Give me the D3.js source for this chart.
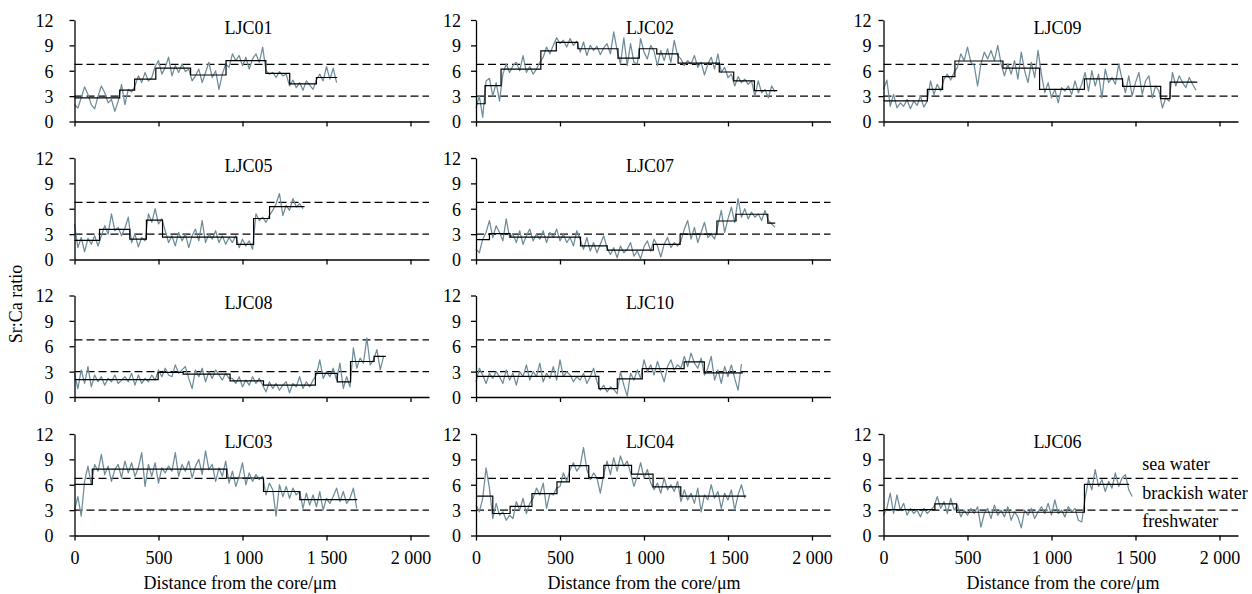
<!DOCTYPE html>
<html><head><meta charset="utf-8">
<script src="https://cdn.jsdelivr.net/npm/d3@7"></script>
<style>
body{margin:0;background:#fff}
svg text{font-family:"Liberation Serif","Times New Roman",serif;fill:#000}
</style>
</head><body>
<svg id="c" width="1252" height="594"></svg>
<script>
// ---------------- DATA ----------------
const panelNames = ["LJC01","LJC02","LJC09","LJC05","LJC07","LJC08","LJC10","LJC03","LJC04","LJC06"];
const sampleStep = 20; // μm between successive Sr:Ca readings

// Sr:Ca profiles (grey lines), one value every sampleStep μm from the core
const ljc01 = [2.0,1.6,2.8,4.1,3.2,2.0,1.5,3.0,4.2,3.4,2.2,2.6,1.2,2.4,4.4,2.0,3.8,3.5,4.2,5.4,4.6,5.8,4.8,5.2,6.5,7.2,5.6,6.4,7.6,5.4,6.6,5.8,6.8,5.9,6.2,4.8,5.4,6.2,4.6,5.8,7.0,5.2,6.0,3.8,5.6,6.8,6.4,8.0,7.2,7.8,6.6,7.6,6.2,7.4,8.0,7.0,8.8,6.0,5.6,5.8,5.2,5.9,5.4,5.6,4.2,4.9,4.0,4.6,3.7,4.8,4.3,3.8,4.9,5.6,4.8,6.5,5.0,6.3,4.6];
const ljc02 = [1.6,3.0,0.5,4.8,5.1,3.0,4.6,2.4,5.6,6.8,5.8,6.6,7.0,6.0,7.8,5.8,6.5,5.6,6.2,7.0,7.6,8.8,8.0,9.0,9.9,9.2,9.6,8.8,9.8,9.0,9.5,8.2,9.4,7.8,9.0,8.4,8.9,7.9,8.7,9.2,8.0,10.6,8.4,6.8,9.9,6.6,9.2,7.0,6.8,9.8,8.2,7.4,9.0,8.3,6.6,8.4,7.2,8.6,7.0,9.6,7.8,7.4,6.6,7.2,6.8,7.8,6.4,7.0,5.5,6.8,7.6,6.2,8.0,5.8,6.4,5.2,5.6,4.2,5.3,4.6,5.0,4.4,4.8,3.0,4.8,3.4,3.8,2.8,4.2,3.5];
const ljc09 = [3.8,4.9,1.8,3.2,1.6,2.2,1.8,2.6,1.5,2.4,1.9,3.0,1.7,2.4,4.8,3.2,4.4,3.6,5.0,5.6,4.9,5.8,6.4,8.0,7.2,8.8,7.0,6.6,4.2,6.8,8.2,7.4,8.4,7.2,9.0,6.8,5.4,6.8,5.6,7.2,5.0,8.2,6.0,4.6,7.0,5.2,8.4,5.6,3.4,4.6,2.8,3.8,2.2,4.0,3.6,4.2,3.2,4.8,3.4,4.4,5.8,3.6,6.0,4.2,5.6,2.8,6.2,4.6,5.2,4.4,6.8,5.0,3.4,5.4,3.0,4.6,5.8,3.2,4.8,5.4,2.8,4.2,3.6,1.6,2.8,2.4,5.8,4.2,5.4,4.6,4.0,5.2,4.4,3.7];
const ljc05 = [4.2,1.4,2.6,0.9,2.5,1.8,2.8,1.6,2.8,4.0,3.0,5.4,3.4,3.8,2.8,3.7,5.0,2.0,3.0,1.5,2.6,2.2,5.4,4.4,6.0,4.2,4.8,3.4,2.0,2.8,1.6,3.2,2.2,3.0,1.4,2.8,3.6,2.2,4.6,2.0,3.0,2.4,3.4,2.0,2.8,1.8,2.6,2.0,2.8,1.4,2.4,1.6,2.2,1.2,5.4,4.6,5.0,4.4,5.2,5.8,6.6,7.8,5.2,6.4,5.8,7.2,6.2,6.6,6.0];
const ljc07 = [1.2,0.8,2.4,3.2,4.6,2.6,4.0,3.2,2.2,4.8,2.6,3.0,2.0,3.4,1.8,2.8,3.6,2.2,3.0,2.4,3.4,2.0,3.2,2.6,3.6,2.2,3.0,2.0,2.6,1.6,3.4,2.4,1.2,2.6,1.0,2.0,0.8,1.8,2.8,1.4,0.6,1.4,0.2,1.6,0.8,1.2,2.0,0.4,1.0,0.1,1.5,2.2,1.0,2.4,1.6,0.3,1.8,2.6,1.4,2.0,1.6,2.2,3.6,4.6,2.4,3.8,2.0,3.2,4.4,2.6,3.0,2.4,4.0,5.8,3.2,4.8,6.2,4.4,7.2,5.0,6.0,4.8,5.6,5.0,5.4,4.6,5.8,4.6,4.2,3.8];
const ljc08 = [2.8,1.0,3.2,1.6,3.6,1.2,2.6,1.8,2.4,1.4,2.2,1.8,2.6,1.6,2.0,2.4,1.8,2.8,1.4,2.6,1.6,2.2,1.8,2.6,2.0,3.2,2.4,3.4,2.6,2.4,3.8,2.8,3.2,3.6,2.2,1.0,3.2,2.4,3.4,1.8,3.0,2.2,3.2,2.6,2.0,2.8,2.2,2.2,1.6,2.4,1.2,2.0,1.4,2.4,1.6,2.2,1.4,0.6,1.8,1.0,1.6,0.8,1.4,1.8,0.5,1.6,1.2,2.4,1.0,1.8,1.2,2.0,2.6,4.4,2.2,3.0,2.4,3.4,2.0,4.0,1.0,2.4,1.2,5.8,3.4,4.6,4.0,7.0,3.8,4.4,5.6,3.2,4.8];
const ljc10 = [1.8,3.4,2.6,1.6,2.8,2.2,3.0,2.4,1.6,3.2,2.0,2.8,1.4,3.0,2.4,3.8,2.0,3.0,2.4,4.0,1.8,2.8,2.2,3.6,2.0,4.4,2.4,3.0,2.6,1.8,2.4,2.0,2.8,1.6,2.4,3.4,1.8,0.8,1.4,0.6,1.2,0.9,0.4,3.0,1.4,0.1,2.8,2.0,3.2,2.2,4.4,3.0,3.8,2.6,4.2,3.0,1.8,3.6,4.4,3.2,3.8,3.4,4.8,3.6,5.2,4.0,3.4,4.6,2.6,3.4,4.8,2.0,3.2,1.6,3.6,2.4,3.8,2.2,0.8,3.9];
const ljc03 = [3.0,4.6,2.3,6.4,8.2,6.0,8.4,7.6,9.6,7.2,8.2,6.4,7.8,8.4,6.8,8.8,7.4,8.6,7.0,8.0,9.8,5.8,8.4,7.0,8.6,6.2,8.0,7.4,8.2,7.6,9.8,7.0,8.4,7.6,8.8,6.8,8.2,9.0,7.2,10.0,7.8,8.4,6.4,8.0,7.0,8.8,6.2,7.6,5.8,7.0,8.6,6.0,7.4,6.4,7.2,6.6,7.0,4.8,6.2,5.4,2.3,6.0,4.6,5.8,4.4,5.6,4.8,5.2,3.2,5.0,3.6,4.8,3.4,5.2,3.0,4.4,3.8,4.6,5.6,4.0,5.2,3.8,4.4,5.6,3.2];
const ljc04 = [3.6,2.8,4.4,8.0,5.6,2.0,3.8,2.4,2.8,1.8,2.4,2.0,4.0,3.0,4.4,2.6,3.8,4.4,5.6,4.8,6.2,3.2,5.0,4.8,5.6,5.8,7.4,6.4,7.8,8.6,7.6,8.2,10.4,7.8,6.6,7.4,6.8,5.0,7.2,8.8,7.2,9.2,7.6,9.4,8.2,8.8,7.4,5.8,7.0,8.6,6.8,7.8,6.2,5.4,6.2,5.0,6.8,5.4,6.0,5.2,6.4,4.0,5.4,4.2,5.0,3.8,5.6,2.8,4.8,4.2,6.0,4.4,5.2,3.2,5.0,4.2,5.4,3.0,4.8,6.0,4.4];
const ljc06 = [2.4,3.2,5.0,2.6,4.8,3.0,3.8,2.4,3.2,2.6,3.0,2.2,3.2,2.6,3.0,3.4,4.6,3.2,4.0,2.6,4.4,3.0,3.6,2.2,3.0,2.4,3.2,2.6,3.4,1.0,2.6,3.2,2.0,3.6,2.4,3.0,2.2,3.4,1.8,2.8,2.2,0.9,3.0,2.4,3.2,2.0,2.8,3.4,2.6,3.8,2.4,4.2,2.6,3.0,2.2,3.4,2.8,3.2,1.8,1.6,4.4,6.6,5.4,7.8,5.8,6.6,5.2,6.4,5.6,7.4,5.8,6.8,7.2,5.4,4.6];

// Step means (black lines): [from μm, to μm, mean Sr:Ca]
const steps01 = [[0,269,2.8],[269,358,3.7],[358,484,5.0],[484,691,6.3],[691,902,5.5],[902,1139,7.2],[1139,1281,5.7],[1281,1440,4.45],[1440,1564,5.2]];
const steps02 = [[0,54,2.1],[54,149,4.25],[149,386,6.2],[386,478,8.35],[478,606,9.35],[606,845,8.6],[845,972,7.5],[972,1076,8.6],[1076,1203,8.0],[1203,1448,6.9],[1448,1534,5.85],[1534,1657,4.8],[1657,1793,3.65]];
const steps09 = [[0,261,2.45],[261,352,3.8],[352,425,5.3],[425,711,7.15],[711,929,6.3],[929,1196,3.8],[1196,1423,5.05],[1423,1650,4.15],[1650,1706,2.7],[1706,1868,4.65]];
const steps05 = [[0,149,2.25],[149,329,3.55],[329,428,2.4],[428,524,4.65],[524,966,2.65],[966,1066,1.8],[1066,1161,4.85],[1161,1369,6.25]];
const steps07 = [[0,80,2.35],[80,203,3.05],[203,622,2.65],[622,781,1.6],[781,1056,1.1],[1056,1215,1.8],[1215,1434,3.0],[1434,1548,4.55],[1548,1737,5.35],[1737,1781,4.3]];
const steps08 = [[0,498,2.05],[498,647,2.9],[647,926,2.7],[926,1125,1.9],[1125,1434,1.4],[1434,1564,2.8],[1564,1643,1.8],[1643,1783,4.2],[1783,1853,4.8]];
const steps10 = [[0,731,2.45],[731,841,1.0],[841,990,2.15],[990,1239,3.35],[1239,1359,4.15],[1359,1588,2.85]];
const steps03 = [[0,106,6.05],[106,906,7.85],[906,1125,6.8],[1125,1341,5.2],[1341,1683,4.25]];
const steps04 = [[0,100,4.65],[100,203,2.6],[203,333,3.45],[333,482,4.95],[482,556,6.35],[556,671,8.25],[671,761,6.85],[761,926,8.3],[926,1054,7.25],[1054,1219,5.75],[1219,1608,4.65]];
const steps06 = [[0,306,3.05],[306,435,3.75],[435,1196,2.75],[1196,1462,6.05]];

const yTicks = [0,3,6,9,12];
const xTicks = [0,500,1000,1500,2000];
const xTickLabels = ["0","500","1 000","1 500","2 000"];
const thresholds = [3.0, 6.75];           // freshwater / brackish / sea water limits
const zoneLabels = ["sea water","brackish water","freshwater"];
const zoneLabelValues = [7.8, 4.35, 0.95]; // vertical placement (Sr:Ca units)
const xTitle = "Distance from the core/μm";
const yTitle = "Sr:Ca ratio";

// ---------------- LAYOUT ----------------
const colLeft = [74.5, 476, 883.5];
const rowTop = [20, 158, 295.5, 434];
const plotH = 101.5;
const px2000 = 336;
const xMax = 2110;
const yLabelGap = [21, 15, 12];
const xTitleCenter = [165.5, 168, 179.5];
const FS = 18;

const grayData = [ljc01,ljc02,ljc09,ljc05,ljc07,ljc08,ljc10,ljc03,ljc04,ljc06];
const stepData = [steps01,steps02,steps09,steps05,steps07,steps08,steps10,steps03,steps04,steps06];
const cells = [[0,0],[0,1],[0,2],[1,0],[1,1],[2,0],[2,1],[3,0],[3,1],[3,2]];

const svg = d3.select("#c");

panelNames.forEach((name, k) => {
  const [row, col] = cells[k];
  const left = colLeft[col], top = rowTop[row];
  const bottom = row === 3;
  const x = d3.scaleLinear().domain([0, xMax]).range([left, left + px2000 * xMax / 2000]);
  const y = d3.scaleLinear().domain([0, 12]).range([top + plotH, top]);
  const g = svg.append("g");

  g.selectAll("line.thr").data(thresholds).join("line")
    .attr("x1", x(0)).attr("x2", x(xMax))
    .attr("y1", d => y(d)).attr("y2", d => y(d))
    .attr("stroke", "#000").attr("stroke-width", 1.3).attr("stroke-dasharray", "8,4");

  const line = d3.line().x((d, i) => x(i * sampleStep)).y(d => y(d));
  g.append("path").datum(grayData[k]).attr("d", line)
    .attr("fill", "none").attr("stroke", "#6f8c99").attr("stroke-width", 1.25)
    .attr("stroke-linejoin", "round");

  const pts = stepData[k].flatMap(s => [[s[0], s[2]], [s[1], s[2]]]);
  g.append("path").datum(pts)
    .attr("d", d3.line().x(d => x(d[0])).y(d => y(d[1])))
    .attr("fill", "none").attr("stroke", "#000").attr("stroke-width", 1.2);

  const xa = d3.axisBottom(x).tickValues(xTicks).tickSize(5).tickSizeOuter(0).tickPadding(11)
    .tickFormat((d, i) => bottom ? xTickLabels[i] : "");
  const gx = g.append("g").attr("transform", `translate(0,${y(0)})`).call(xa);
  const ya = d3.axisLeft(y).tickValues(yTicks).tickSize(5).tickSizeOuter(0).tickPadding(yLabelGap[col] - 5);
  const gy = g.append("g").attr("transform", `translate(${x(0)},0)`).call(ya);
  [gx, gy].forEach(a => {
    a.attr("font-family", null).attr("font-size", null);
    a.selectAll("path,line").attr("stroke", "#000").attr("stroke-width", 1.3);
    a.selectAll("text").style("font-size", FS + "px");
  });
  gy.selectAll("text").attr("dy", "0.36em");

  g.append("text").attr("x", left + 174).attr("y", top + 13.5)
    .attr("text-anchor", "middle").style("font-size", FS + "px").text(name);

  if (bottom) {
    g.append("text").attr("x", left + xTitleCenter[col]).attr("y", 589)
      .attr("text-anchor", "middle").style("font-size", FS + "px").text(xTitle);
  }
  if (name === "LJC06") {
    g.selectAll("text.zone").data(zoneLabels).join("text")
      .attr("x", x(1540)).attr("y", (d, i) => y(zoneLabelValues[i]))
      .style("font-size", FS + "px").text(d => d);
  }
});

svg.append("text").attr("transform", "translate(22,304) rotate(-90)")
  .attr("text-anchor", "middle").style("font-size", FS + "px").text(yTitle);
</script>
</body></html>
